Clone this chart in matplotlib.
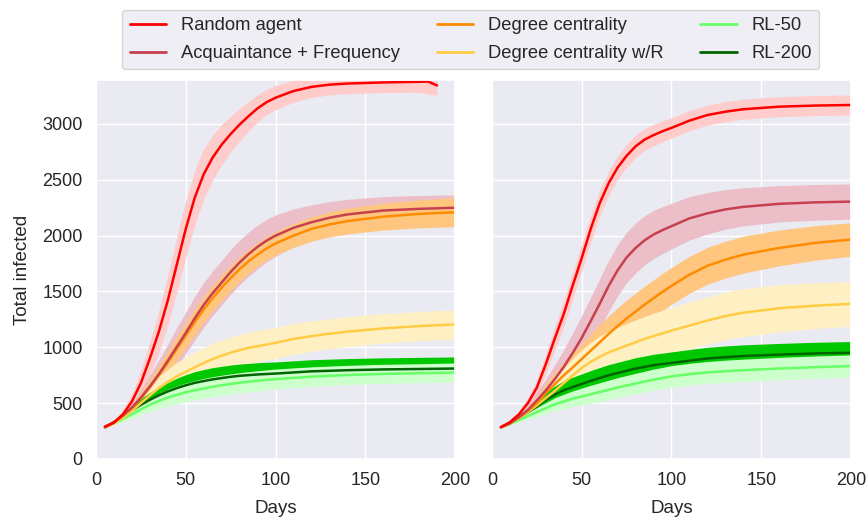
import matplotlib
matplotlib.use("Agg")
import matplotlib.pyplot as plt
import seaborn as sns
from matplotlib.lines import Line2D

# days of the simulation at which the totals were recorded
days = [5, 10, 15, 20, 25, 30, 35, 40, 45, 50, 55, 60, 65, 70, 75, 80, 85, 90, 95, 100,
        110, 120, 130, 140, 160, 180, 200]
# the random agent runs on the first network stop a bit earlier
days_random_left = [5, 10, 15, 20, 25, 30, 35, 40, 45, 50, 55, 60, 65, 70, 75, 80, 85, 90, 95, 100,
                    110, 120, 130, 140, 160, 180, 185, 190]

labels = ["Random agent", "Acquaintance + Frequency", "Degree centrality",
          "Degree centrality w/R", "RL-50", "RL-200"]
line_colors = ["#ff0000", "#c7404f", "#ff8c00", "#ffcc44", "#66ff66", "#006400"]
band_colors = ["#ffcccc", "#ecbfc8", "#ffc680", "#fff0c4", "#ccffcc", "#00c800"]

# ---- left network: mean total infected and band half width
random_l = [290, 325, 400, 515, 680, 900, 1140, 1420, 1740, 2060, 2340, 2550, 2700, 2815, 2910, 2995, 3070, 3140, 3195, 3235,
            3295, 3332, 3352, 3362, 3372, 3378, 3380, 3345]
random_l_band = [8, 20, 40, 70, 110, 150, 190, 225, 250, 255, 245, 225, 200, 180, 160, 145, 132, 122, 115, 108,
                 100, 95, 92, 90, 90, 95, 110, 90]
af_l = [285, 330, 390, 460, 550, 650, 760, 880, 1005, 1130, 1260, 1380, 1485, 1580, 1675, 1760, 1835, 1900, 1955, 2000,
        2070, 2120, 2160, 2190, 2225, 2240, 2250]
af_l_band = [5, 15, 30, 50, 75, 100, 125, 150, 170, 185, 195, 200, 200, 200, 200, 200, 198, 195, 190, 185,
             170, 155, 145, 135, 125, 120, 115]
dc_l = [285, 330, 390, 455, 540, 640, 750, 865, 985, 1105, 1225, 1340, 1440, 1535, 1620, 1700, 1770, 1830, 1885, 1930,
        2000, 2060, 2100, 2130, 2170, 2195, 2210]
dc_l_band = [5, 12, 25, 40, 55, 70, 85, 95, 105, 110, 115, 115, 115, 115, 112, 110, 108, 105, 105, 105,
             105, 110, 112, 115, 120, 125, 130]
dcr_l = [285, 320, 370, 430, 500, 570, 635, 690, 740, 780, 820, 860, 895, 925, 952, 975, 995, 1010, 1025, 1040,
         1075, 1100, 1122, 1140, 1170, 1190, 1205]
dcr_l_band = [5, 15, 30, 50, 70, 90, 105, 115, 125, 130, 135, 138, 140, 140, 140, 140, 140, 140, 140, 140,
              138, 136, 134, 133, 131, 131, 131]
rl50_l = [285, 320, 360, 400, 445, 485, 520, 550, 575, 597, 615, 632, 647, 660, 672, 683, 692, 700, 708, 715,
          727, 737, 745, 752, 762, 768, 775]
rl50_l_band = [3, 12, 25, 38, 50, 60, 68, 75, 80, 84, 87, 89, 90, 90, 90, 90, 90, 90, 90, 90,
               89, 88, 87, 87, 86, 85, 85]
rl200_l = [285, 330, 380, 435, 485, 530, 570, 605, 635, 660, 682, 698, 713, 725, 736, 745, 751, 757, 761, 765,
           775, 785, 790, 795, 802, 806, 810]
rl200_l_band = [3, 12, 25, 40, 55, 65, 72, 80, 88, 95, 100, 103, 105, 105, 105, 105, 105, 105, 105, 104,
                104, 104, 104, 104, 104, 104, 104]

# ---- right network
random_r = [285, 330, 400, 500, 640, 850, 1080, 1300, 1555, 1800, 2060, 2290, 2470, 2610, 2715, 2800, 2860, 2900, 2935, 2965,
            3030, 3080, 3110, 3132, 3155, 3165, 3170]
random_r_band = [5, 15, 30, 50, 70, 90, 105, 115, 120, 120, 120, 115, 110, 105, 102, 100, 98, 96, 94, 92,
                 90, 90, 90, 90, 90, 90, 90]
af_r = [285, 320, 375, 440, 525, 615, 715, 825, 950, 1085, 1235, 1390, 1550, 1690, 1805, 1890, 1958, 2010, 2050, 2085,
        2155, 2200, 2235, 2258, 2285, 2298, 2305]
af_r_band = [5, 15, 30, 50, 75, 100, 130, 155, 180, 200, 215, 225, 228, 228, 226, 224, 220, 215, 210, 205,
             195, 185, 178, 170, 163, 160, 158]
dc_r = [285, 320, 370, 430, 500, 590, 670, 750, 820, 895, 970, 1045, 1120, 1190, 1258, 1320, 1382, 1440, 1497, 1550,
        1650, 1730, 1785, 1830, 1890, 1935, 1965]
dc_r_band = [5, 12, 25, 40, 60, 80, 100, 115, 130, 140, 150, 155, 160, 163, 165, 165, 165, 165, 165, 165,
             165, 165, 165, 165, 160, 155, 150]
dcr_r = [285, 320, 365, 420, 480, 545, 610, 680, 750, 815, 870, 915, 955, 985, 1015, 1045, 1075, 1100, 1125, 1150,
         1195, 1240, 1280, 1310, 1350, 1373, 1390]
dcr_r_band = [5, 15, 30, 50, 70, 95, 115, 135, 150, 165, 175, 185, 190, 195, 198, 200, 202, 205, 205, 205,
              210, 212, 214, 215, 212, 205, 200]
rl50_r = [285, 315, 350, 385, 420, 455, 490, 515, 540, 560, 580, 600, 620, 640, 658, 675, 693, 710, 725, 740,
          760, 775, 786, 795, 810, 822, 832]
rl50_r_band = [3, 10, 20, 30, 40, 50, 58, 65, 70, 75, 80, 83, 86, 88, 90, 92, 93, 95, 95, 96,
               97, 98, 99, 99, 100, 100, 100]
rl200_r = [285, 320, 370, 420, 470, 530, 575, 615, 645, 672, 700, 725, 750, 770, 790, 810, 825, 840, 850, 860,
           880, 900, 912, 922, 935, 945, 952]
rl200_r_band = [3, 12, 25, 40, 55, 68, 78, 85, 88, 90, 92, 94, 95, 96, 96, 97, 97, 98, 98, 99,
                100, 100, 100, 100, 100, 100, 100]

left_runs = [(days_random_left, random_l, random_l_band), (days, af_l, af_l_band),
             (days, dc_l, dc_l_band), (days, dcr_l, dcr_l_band),
             (days, rl50_l, rl50_l_band), (days, rl200_l, rl200_l_band)]
right_runs = [(days, random_r, random_r_band), (days, af_r, af_r_band),
              (days, dc_r, dc_r_band), (days, dcr_r, dcr_r_band),
              (days, rl50_r, rl50_r_band), (days, rl200_r, rl200_r_band)]

sns.set_theme(style="darkgrid")
plt.rcParams["font.family"] = ["Liberation Sans", "DejaVu Sans"]
FS = 13
LABEL_FS = 13.5


def draw_panel(ax, runs):
    # bands first (RL-200 before RL-50), then the mean lines on top
    band_order = [0, 1, 2, 3, 5, 4]
    for i in band_order:
        d, mean, band = runs[i]
        lo = [m - b for m, b in zip(mean, band)]
        hi = [m + b for m, b in zip(mean, band)]
        ax.fill_between(d, lo, hi, color=band_colors[i], linewidth=0)
    for i in [5, 4, 3, 2, 1, 0]:
        d, mean, band = runs[i]
        ax.plot(d, mean, color=line_colors[i], lw=1.8)
    ax.set_xlim(0, 200)
    ax.set_ylim(0, 3394)
    ax.set_xticks([0, 50, 100, 150, 200])
    ax.set_yticks([0, 500, 1000, 1500, 2000, 2500, 3000])
    ax.tick_params(labelsize=FS)
    ax.set_xlabel("Days", fontsize=LABEL_FS, labelpad=8)


fig = plt.figure(figsize=(8.68, 5.18), dpi=100)
ax1 = fig.add_axes([0.1106, 0.1139, 0.4136, 0.7317])
ax2 = fig.add_axes([0.5668, 0.1139, 0.4136, 0.7317], sharey=ax1)

draw_panel(ax1, left_runs)
draw_panel(ax2, right_runs)
ax1.set_ylabel("Total infected", fontsize=LABEL_FS, labelpad=8)
ax2.tick_params(labelleft=False)

handles = [Line2D([], [], color=c, lw=2) for c in line_colors]
fig.legend(handles, labels, loc="upper center", bbox_to_anchor=(0.5426, 0.999),
           ncol=3, fontsize=13.2, labelspacing=0.6, frameon=True)

fig.savefig("out.png", dpi=100)
